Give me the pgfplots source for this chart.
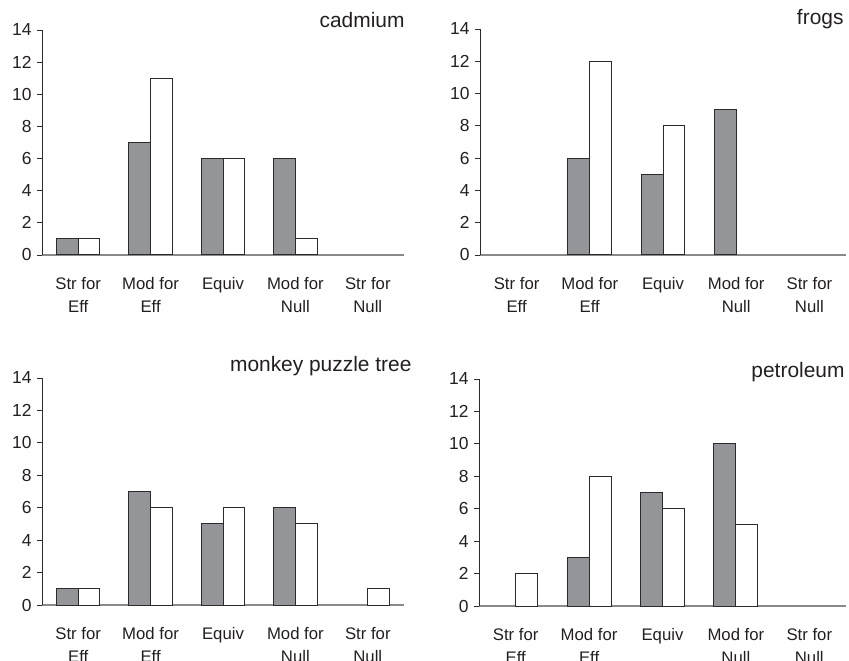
\documentclass[border=0pt]{standalone}
\usepackage{pgfplots}
\pgfplotsset{compat=1.18}
\usepackage{fontspec}
\setmainfont{Liberation Sans}
\definecolor{barg}{HTML}{939598}
\definecolor{edge}{HTML}{2B2B2B}
\definecolor{txt}{HTML}{231F20}
\definecolor{xline}{HTML}{8A8A8A}
\pgfplotsset{
  panel/.style={
    scale only axis, width=362bp, height=225bp,
    xmin=-0.5, xmax=4.5, ymin=0, ymax=14,
    axis x line=bottom, axis y line=left,
    x axis line style={-, draw=xline, line width=1.3bp},
    y axis line style={-, draw=edge, line width=0.8bp},
    xtick={0,1,2,3,4},
    xticklabels={{Str for\\Eff},{Mod for\\Eff},{Equiv\\\strut},{Mod for\\Null},{Str for\\Null}},
    xtick style={draw=none},
    xticklabel style={font=\fontsize{16.8}{23}\selectfont, text=txt, align=center, anchor=north, yshift=-14bp},
    ytick={0,2,...,14}, tick align=outside, major tick length=5bp,
    ytick style={draw=edge, line width=0.8bp},
    yticklabel style={font=\fontsize{17.5}{19}\selectfont, text=txt, xshift=-2bp},
    /pgf/number format/assume math mode=true,
    clip=false,
    bar width=0.3,
  },
  gbar/.style={ybar, bar shift=-0.15, fill=barg, draw=edge, line width=1bp},
  wbar/.style={ybar, bar shift=0.15, fill=white, draw=edge, line width=1bp},
}
\begin{document}
\begin{tikzpicture}
\path[use as bounding box] (0bp,0bp) rectangle (849bp,661bp);
% cadmium
\begin{axis}[panel, at={(42bp,406bp)}, anchor=south west]
\addplot[gbar] coordinates {(0,1) (1,7) (2,6) (3,6)};
\addplot[wbar] coordinates {(0,1) (1,11) (2,6) (3,1)};
\end{axis}
\node[anchor=base east, font=\fontsize{21}{24}\selectfont, text=txt] at (408bp,633bp) {cadmium};
% frogs
\begin{axis}[panel, at={(480bp,406bp)}, anchor=south west, width=366bp, height=226bp]
\addplot[gbar] coordinates {(1,6) (2,5) (3,9)};
\addplot[wbar] coordinates {(1,12) (2,8)};
\end{axis}
\node[anchor=base east, font=\fontsize{21}{24}\selectfont, text=txt] at (847bp,636bp) {frogs};
% monkey puzzle tree
\begin{axis}[panel, at={(42bp,56bp)}, anchor=south west, height=227bp]
\addplot[gbar] coordinates {(0,1) (1,7) (2,5) (3,6)};
\addplot[wbar] coordinates {(0,1) (1,6) (2,6) (3,5) (4,1)};
\end{axis}
\node[anchor=base east, font=\fontsize{21}{24}\selectfont, text=txt] at (415bp,289bp) {monkey puzzle tree};
% petroleum
\begin{axis}[panel, at={(479bp,55bp)}, anchor=south west, width=367bp, height=227bp]
\addplot[gbar] coordinates {(1,3) (2,7) (3,10)};
\addplot[wbar] coordinates {(0,2) (1,8) (2,6) (3,5)};
\end{axis}
\node[anchor=base east, font=\fontsize{21}{24}\selectfont, text=txt] at (848bp,283bp) {petroleum};
\end{tikzpicture}
\end{document}
